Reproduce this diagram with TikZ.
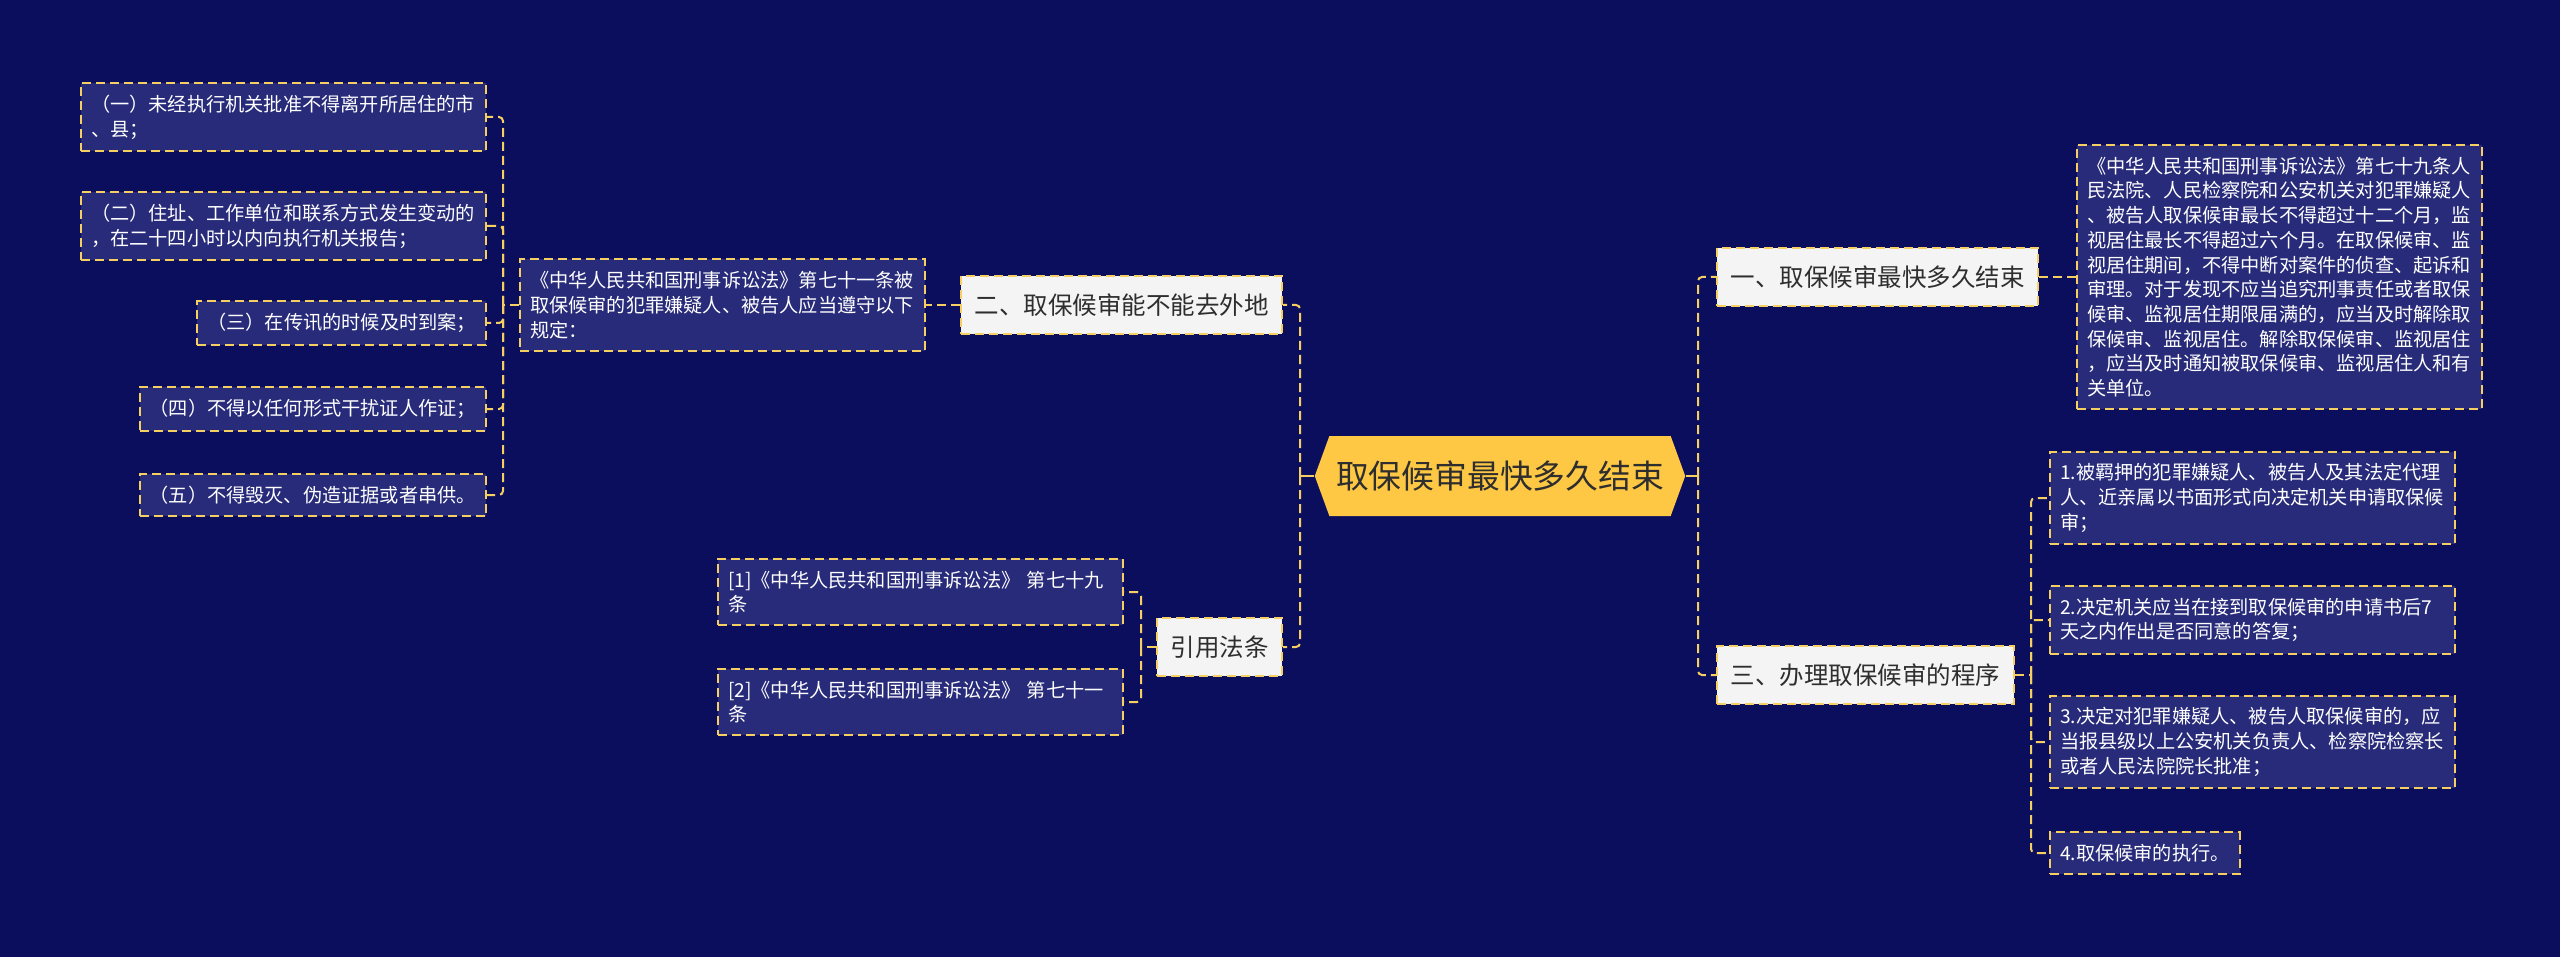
\documentclass[tikz,border=0pt]{standalone}
\usepackage{fontspec}
\setmainfont{Noto Sans CJK SC}
\usetikzlibrary{positioning,shapes.symbols}
\definecolor{cnavy}{HTML}{0B0E5C}
\definecolor{cleaf}{HTML}{272B79}
\definecolor{cgold}{HTML}{F6CF63}
\definecolor{croot}{HTML}{FEC845}
\definecolor{cpaper}{HTML}{F4F4F4}
\definecolor{cink}{HTML}{2E2E2E}

\begin{document}
\begin{tikzpicture}[x=0.5pt, y=-0.5pt,
    rim/.style={draw=cgold, line width=1pt, dash pattern=on 4.5pt off 2.5pt},
    leaf/.style={rim, fill=cleaf, text=white, inner xsep=5pt, inner ysep=6pt, align=left, font=\fontsize{9.6pt}{12.35pt}\selectfont},
    wide/.style={leaf, text width=192.5pt},
    topic/.style={rim, fill=cpaper, text=cink, inner xsep=6.75pt, minimum height=29pt, font=\fontsize{12.25pt}{15pt}\selectfont},
    link/.style={cgold, line width=1pt, dash pattern=on 4.5pt off 2.5pt, rounded corners=2pt},
    stub/.style={cgold, line width=1pt}]
  \fill[cnavy] (0,0) rectangle (2560,957);
  % central topic
  \node[signal, signal to=west and east, signal pointer angle=140, fill=croot, text=cink, minimum width=182.5pt, minimum height=40pt, font=\fontsize{16.4pt}{20pt}\selectfont] (root) at (1500,476) {取保候审最快多久结束};
  \coordinate (jl) at (1300,476);
  \coordinate (jr) at (1698,476);
  \draw[stub] (root.west) -- (jl);
  \draw[stub] (root.east) -- (jr);

  % right branches
  \node[topic, anchor=west] (t1) at (1716,277) {一、取保候审最快多久结束};
  \node[wide, right=18.5pt of t1] (r1) {《中华人民共和国刑事诉讼法》第七十九条人\\民法院、人民检察院和公安机关对犯罪嫌疑人\\、被告人取保候审最长不得超过十二个月，监\\视居住最长不得超过六个月。在取保候审、监\\视居住期间，不得中断对案件的侦查、起诉和\\审理。对于发现不应当追究刑事责任或者取保\\候审、监视居住期限届满的，应当及时解除取\\保候审、监视居住。解除取保候审、监视居住\\，应当及时通知被取保候审、监视居住人和有\\关单位。};
  \node[topic, anchor=west] (t3) at (1716,675) {三、办理取保候审的程序};
  \node[wide, anchor=west] (c1) at (2049,498) {1.被羁押的犯罪嫌疑人、被告人及其法定代理\\人、近亲属以书面形式向决定机关申请取保候\\审；};
  \node[wide, anchor=west] (c2) at (2049,620) {2.决定机关应当在接到取保候审的申请书后7\\天之内作出是否同意的答复；};
  \node[wide, anchor=west] (c3) at (2049,742) {3.决定对犯罪嫌疑人、被告人取保候审的，应\\当报县级以上公安机关负责人、检察院检察长\\或者人民法院院长批准；};
  \node[leaf, anchor=west] (c4) at (2049,853) {4.取保候审的执行。};
  \draw[link] (jr) |- (t1.west);
  \draw[link] (jr) |- (t3.west);
  \draw[link] (t1) -- (r1);
  \coordinate (j3) at (2031,675);
  \draw[link] (t3.east) -- (j3);
  \foreach \i in {1,...,4} {
    \draw[link] (j3) |- (c\i.west);
  }

  % left branches
  \node[topic, anchor=east] (t2) at (1283,305) {二、取保候审能不能去外地};
  \node[wide, left=17pt of t2] (m2) {《中华人民共和国刑事诉讼法》第七十一条被\\取保候审的犯罪嫌疑人、被告人应当遵守以下\\规定：};
  \node[wide, anchor=east] (a1) at (487,117) {（一）未经执行机关批准不得离开所居住的市\\、县；};
  \node[wide, anchor=east] (a2) at (487,226) {（二）住址、工作单位和联系方式发生变动的\\，在二十四小时以内向执行机关报告；};
  \node[leaf, anchor=east] (a3) at (487,323) {（三）在传讯的时候及时到案；};
  \node[leaf, anchor=east] (a4) at (487,409) {（四）不得以任何形式干扰证人作证；};
  \node[leaf, anchor=east] (a5) at (487,495) {（五）不得毁灭、伪造证据或者串供。};
  \node[topic, anchor=east] (t4) at (1283,647) {引用法条};
  \node[wide, anchor=east] (b1) at (1124,592) {[1]《中华人民共和国刑事诉讼法》 第七十九\\条};
  \node[wide, anchor=east] (b2) at (1124,702) {[2]《中华人民共和国刑事诉讼法》 第七十一\\条};
  \draw[link] (jl) |- (t2.east);
  \draw[link] (jl) |- (t4.east);
  \draw[link] (t2) -- (m2);
  \coordinate (j2) at (503,305);
  \draw[link] (m2.west) -- (j2);
  \foreach \i in {1,...,5} {
    \draw[link] (j2) |- (a\i.east);
  }
  \coordinate (j4) at (1141,647);
  \draw[link] (t4.west) -- (j4);
  \foreach \i in {1,2} {
    \draw[link] (j4) |- (b\i.east);
  }
\end{tikzpicture}
\end{document}
